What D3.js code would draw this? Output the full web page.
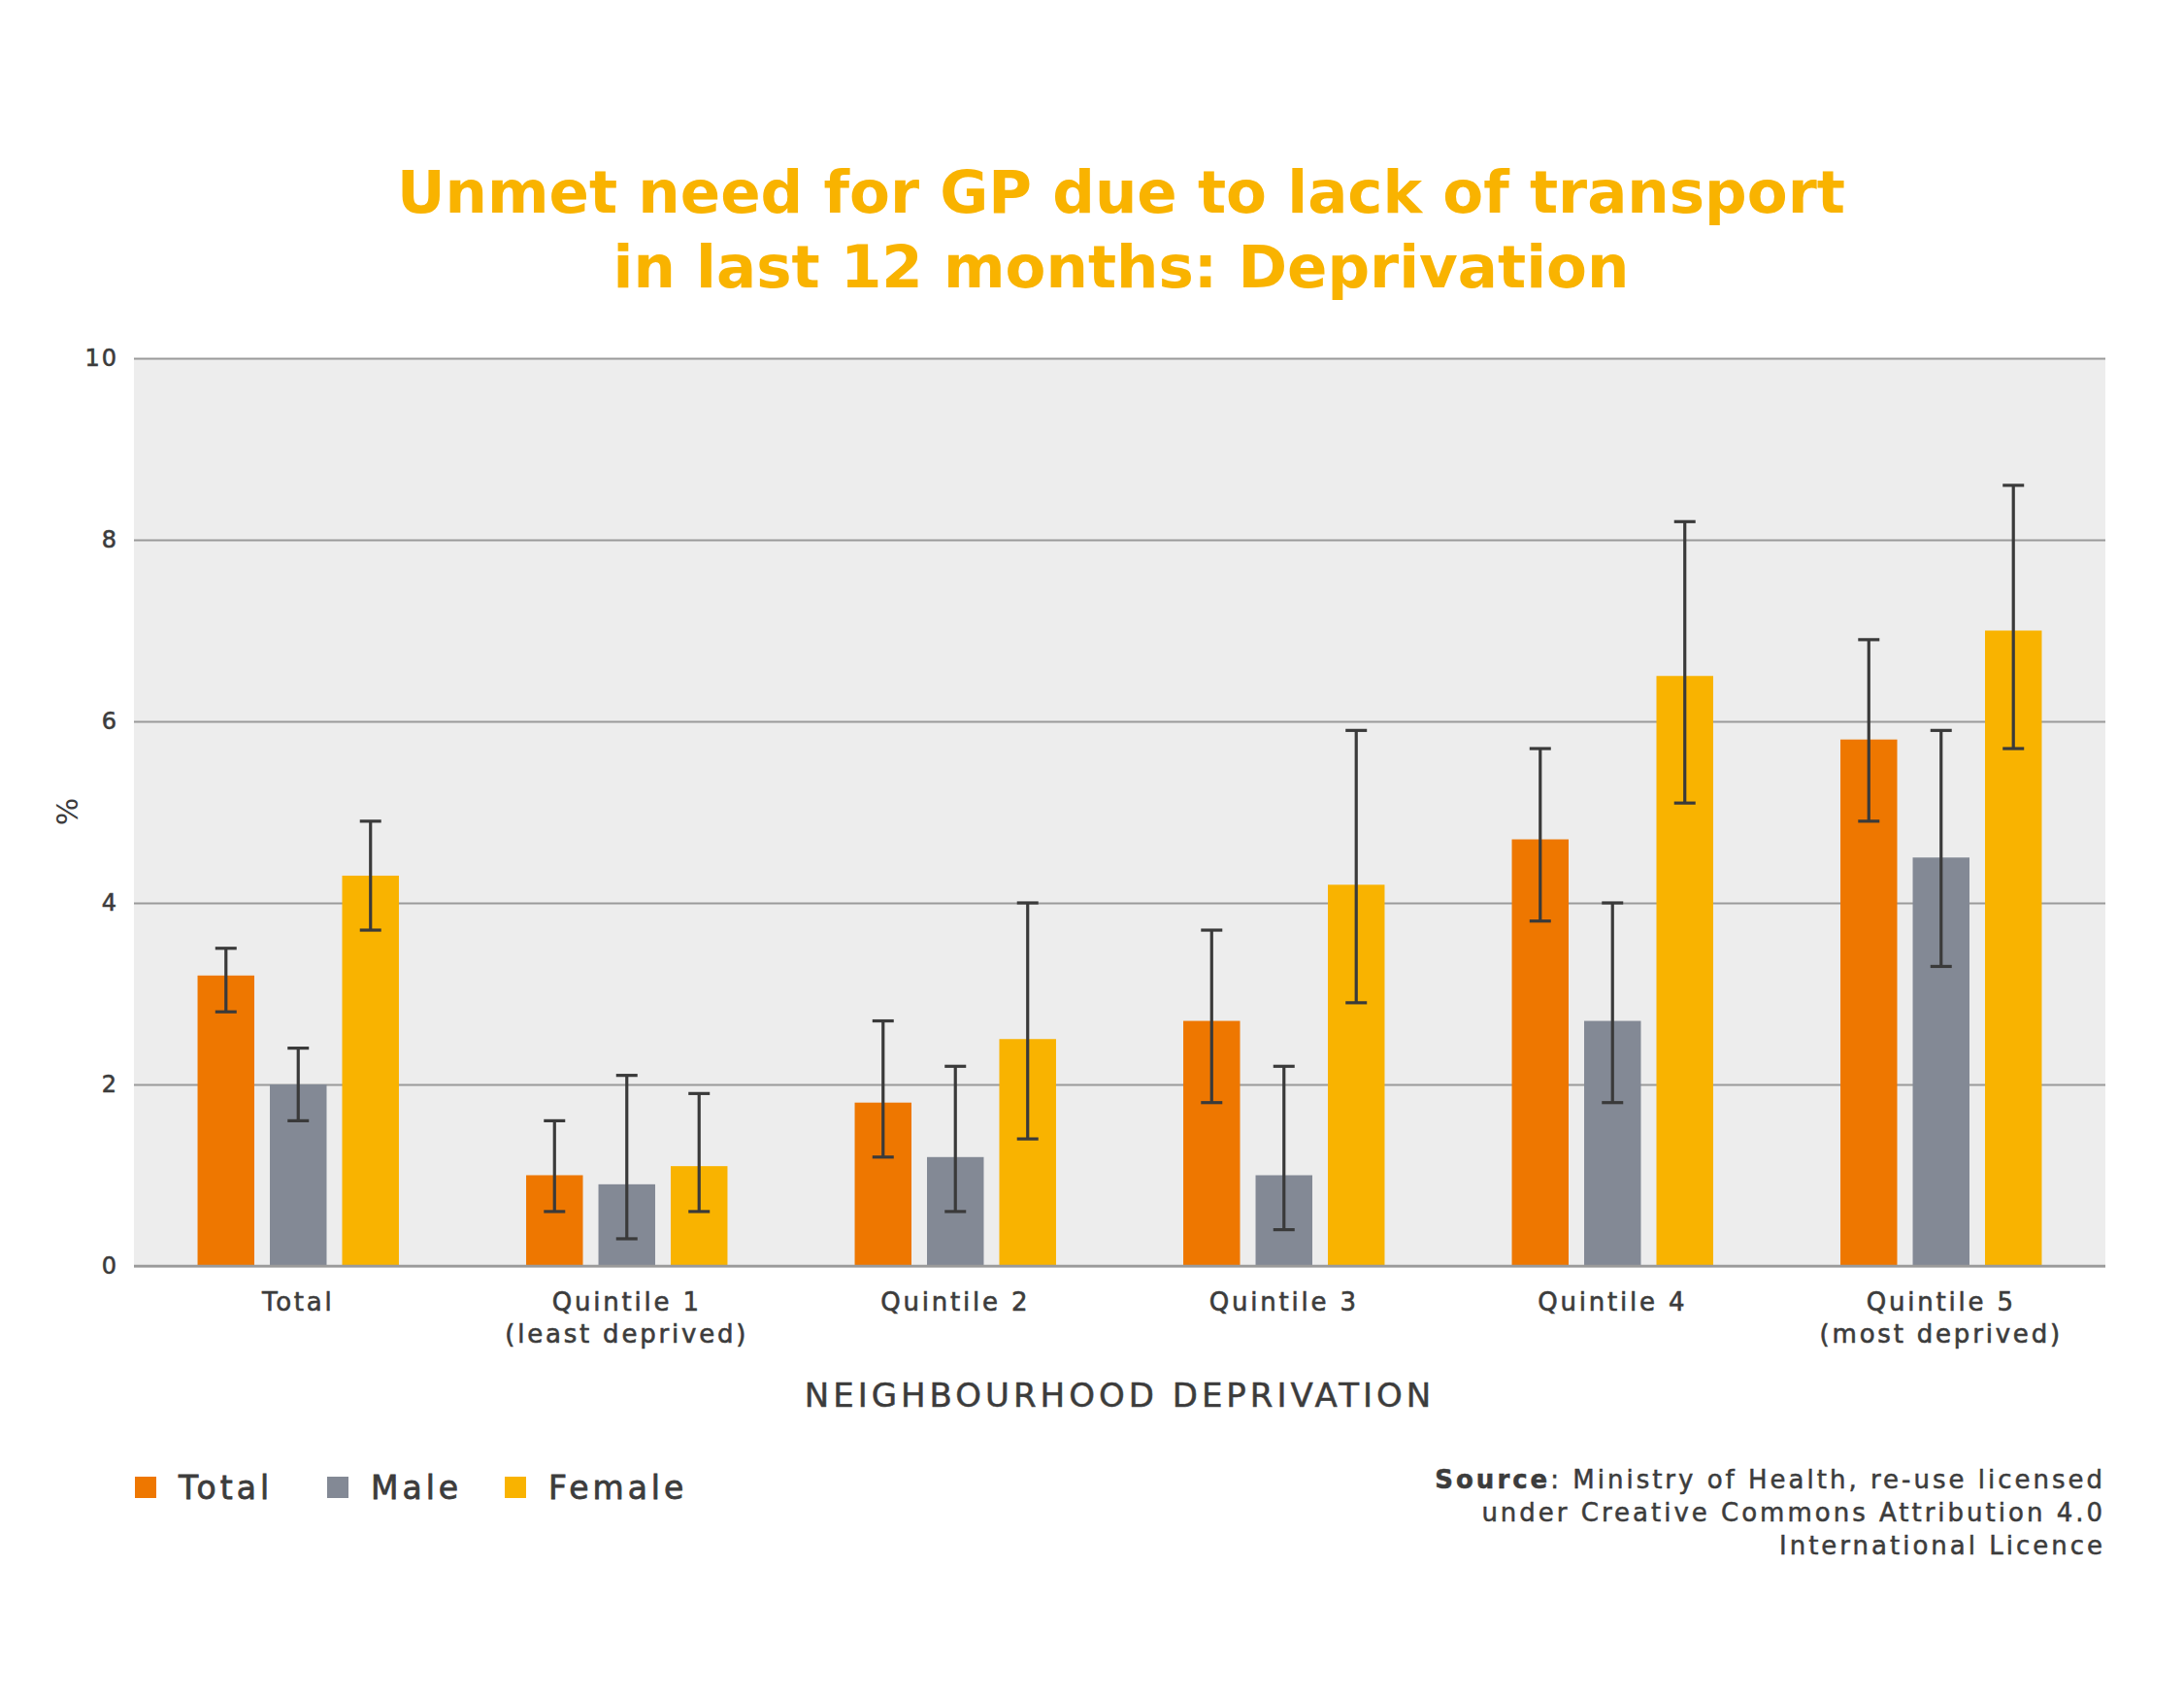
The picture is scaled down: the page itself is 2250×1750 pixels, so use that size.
<!DOCTYPE html>
<html>
<head>
<meta charset="utf-8">
<script src="https://cdn.jsdelivr.net/npm/d3@7"></script>
<style>
  body { margin: 0; background: #fff; }
  svg { display: block; }
</style>
</head>
<body>
<script>
// chart values
var categories = ["Total", "Quintile 1|(least deprived)", "Quintile 2", "Quintile 3", "Quintile 4", "Quintile 5|(most deprived)"];
var seriesNames = ["Total", "Male", "Female"];
var totalVals  = [3.2, 1.0, 1.8, 2.7, 4.7, 5.8];
var totalLow   = [2.8, 0.6, 1.2, 1.8, 3.8, 4.9];
var totalHigh  = [3.5, 1.6, 2.7, 3.7, 5.7, 6.9];
var maleVals   = [2.0, 0.9, 1.2, 1.0, 2.7, 4.5];
var maleLow    = [1.6, 0.3, 0.6, 0.4, 1.8, 3.3];
var maleHigh   = [2.4, 2.1, 2.2, 2.2, 4.0, 5.9];
var femaleVals = [4.3, 1.1, 2.5, 4.2, 6.5, 7.0];
var femaleLow  = [3.7, 0.6, 1.4, 2.9, 5.1, 5.7];
var femaleHigh = [4.9, 1.9, 4.0, 5.9, 8.2, 8.6];
var yTicks = [0, 2, 4, 6, 8, 10];

var colors = {Total: "#ee7700", Male: "#838995", Female: "#f9b300"};
var textCol = "#3c3c3c";

var vals = {Total: totalVals, Male: maleVals, Female: femaleVals};
var lows = {Total: totalLow, Male: maleLow, Female: femaleLow};
var highs = {Total: totalHigh, Male: maleHigh, Female: femaleHigh};

var rows = [];
categories.forEach(function(c, i) {
  seriesNames.forEach(function(s) {
    rows.push({cat: c, series: s, v: vals[s][i], lo: lows[s][i], hi: highs[s][i]});
  });
});

var W = 2250, H = 1750;
var pLeft = 138, pRight = 2169, pTop = 369, pBottom = 1304;

var svg = d3.select("body").append("svg")
  .attr("width", W)
  .attr("height", H);

// title
var title = svg.append("text")
  .attr("text-anchor", "middle")
  .style("font-family", "DejaVu Sans")
  .style("font-weight", "bold")
  .style("font-size", "61px")
  .style("fill", "#f9b300");
title.append("tspan").attr("x", 1155).attr("y", 219).text("Unmet need for GP due to lack of transport");
title.append("tspan").attr("x", 1155).attr("y", 296).text("in last 12 months: Deprivation");

var x0 = d3.scaleBand()
  .domain(categories)
  .range([pLeft, pRight])
  .padding(0);

var x1 = d3.scaleBand()
  .domain(seriesNames)
  .range([0, x0.bandwidth()])
  .paddingInner(0.215)
  .paddingOuter(0.88);

var y = d3.scaleLinear()
  .domain([0, 10])
  .range([pBottom, pTop]);

// plot background
svg.append("rect")
  .attr("x", pLeft)
  .attr("y", pTop)
  .attr("width", pRight - pLeft)
  .attr("height", pBottom - pTop)
  .style("fill", "#ededed");

// grid lines + y ticks
var yAxis = svg.append("g")
  .attr("transform", "translate(" + pLeft + ",0)")
  .call(d3.axisLeft(y).tickValues(yTicks).tickSize(-(pRight - pLeft)).tickPadding(16));
yAxis.select(".domain").remove();
yAxis.selectAll(".tick line")
  .style("stroke", "#9a9a9a")
  .style("stroke-width", 2);
yAxis.selectAll(".tick text")
  .style("font-family", "DejaVu Sans")
  .style("font-size", "24px")
  .style("letter-spacing", "2px")
  .style("fill", textCol)
  .style("stroke", textCol)
  .style("stroke-width", 0.6);

svg.append("text")
  .attr("transform", "translate(80,836) rotate(-90)")
  .attr("text-anchor", "middle")
  .style("font-family", "DejaVu Sans")
  .style("font-size", "30px")
  .style("fill", textCol)
  .text("%");

// bars
svg.append("g").selectAll("rect")
  .data(rows)
  .join("rect")
  .attr("x", function(d) { return x0(d.cat) + x1(d.series); })
  .attr("y", function(d) { return y(d.v); })
  .attr("width", x1.bandwidth())
  .attr("height", function(d) { return y(0) - y(d.v); })
  .style("fill", function(d) { return colors[d.series]; });

// baseline on top of bars
svg.append("line")
  .attr("x1", pLeft).attr("x2", pRight)
  .attr("y1", y(0)).attr("y2", y(0))
  .style("stroke", "#9a9a9a")
  .style("stroke-width", 2.5);

// error bars
var err = svg.append("g").selectAll("g")
  .data(rows)
  .join("g")
  .attr("transform", function(d) { return "translate(" + (x0(d.cat) + x1(d.series) + x1.bandwidth() / 2) + ",0)"; })
  .style("stroke", "#3a3a3a")
  .style("stroke-width", 3.2);
err.append("line")
  .attr("y1", function(d) { return y(d.lo); })
  .attr("y2", function(d) { return y(d.hi); });
err.append("line")
  .attr("x1", -11).attr("x2", 11)
  .attr("y1", function(d) { return y(d.hi); })
  .attr("y2", function(d) { return y(d.hi); });
err.append("line")
  .attr("x1", -11).attr("x2", 11)
  .attr("y1", function(d) { return y(d.lo); })
  .attr("y2", function(d) { return y(d.lo); });

// category labels
var catLabels = svg.append("g").selectAll("text")
  .data(categories)
  .join("text")
  .attr("text-anchor", "middle")
  .style("font-family", "DejaVu Sans")
  .style("font-size", "26px")
  .style("letter-spacing", "2.8px")
  .style("fill", textCol)
  .style("stroke", textCol)
  .style("stroke-width", 0.6);
catLabels.each(function(c) {
  var parts = c.split("|");
  var t = d3.select(this);
  parts.forEach(function(p, i) {
    t.append("tspan")
      .attr("x", x0(c) + x0.bandwidth() / 2)
      .attr("y", 1350 + i * 33)
      .text(p);
  });
});

svg.append("text")
  .attr("x", (pLeft + pRight) / 2)
  .attr("y", 1449)
  .attr("text-anchor", "middle")
  .style("font-family", "DejaVu Sans")
  .style("font-size", "34px")
  .style("letter-spacing", "4px")
  .style("fill", textCol)
  .style("stroke", textCol)
  .style("stroke-width", 0.5)
  .text("NEIGHBOURHOOD DEPRIVATION");

// legend
var legendX = [139, 337, 520];
var legend = svg.append("g").selectAll("g")
  .data(seriesNames)
  .join("g")
  .attr("transform", function(d, i) { return "translate(" + legendX[i] + ",1521)"; });
legend.append("rect")
  .attr("width", 22)
  .attr("height", 22)
  .style("fill", function(d) { return colors[d]; });
legend.append("text")
  .attr("x", 45)
  .attr("y", 23)
  .style("font-family", "DejaVu Sans")
  .style("font-size", "33px")
  .style("letter-spacing", "4px")
  .style("fill", textCol)
  .style("stroke", textCol)
  .style("stroke-width", 0.8)
  .text(function(d) { return d; });

// source note
var sourceLines = ["Ministry of Health, re-use licensed", "under Creative Commons Attribution 4.0", "International Licence"];
var src = svg.append("g").selectAll("text")
  .data(sourceLines)
  .join("text")
  .attr("x", 2169)
  .attr("y", function(d, i) { return 1533 + i * 34; })
  .attr("text-anchor", "end")
  .style("font-family", "DejaVu Sans")
  .style("font-size", "26px")
  .style("letter-spacing", "3px")
  .style("fill", textCol)
  .style("stroke", textCol)
  .style("stroke-width", 0.5);
src.each(function(d, i) {
  var t = d3.select(this);
  if (i === 0) {
    t.append("tspan").style("font-weight", "bold").text("Source");
    t.append("tspan").text(": " + d);
  } else {
    t.text(d);
  }
});
</script>
</body>
</html>
